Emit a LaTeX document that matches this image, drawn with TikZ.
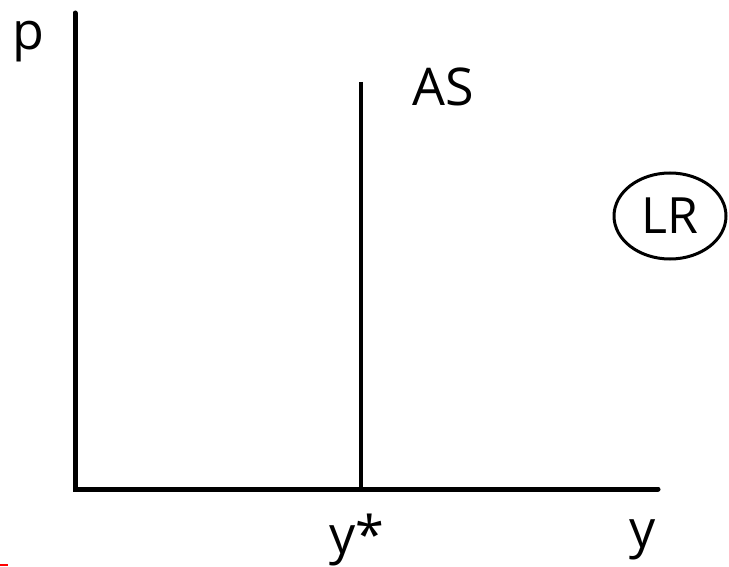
\documentclass[tikz,border=0pt]{standalone}
\usepackage{fontspec}
\setmainfont{Open Sans}
\usetikzlibrary{positioning, shapes.geometric}

\begin{document}
\begin{tikzpicture}[
  x=1pt,y=-1pt,
  axis/.style={line width=5pt,line cap=round},
  curve/.style={line width=4pt},
  lbl/.style={font=\fontsize{52}{56}\selectfont,inner sep=0pt},
  tag/.style={draw,ellipse,line width=3pt,font=\fontsize{50}{54}\selectfont,minimum width=112pt,minimum height=86pt,inner sep=0pt},
]
\useasboundingbox (0,0) rectangle (729,567);

\coordinate (O) at (75,489);
\coordinate (ytop) at (75,13);
\coordinate (xend) at (658,489);
\coordinate (asbot) at (361,489);
\coordinate (astop) at (361,82);

\draw[axis] (ytop) -- (O) -- (xend);
\draw[curve] (astop) -- (asbot);

\node[lbl] (p) at (28,42) {p};
\node[lbl] (as) at (443,87) {AS};
\node[lbl] (ystar) at (357,540) {y*};
\node[lbl] (y) at (643,540) {y};
\node[tag] (lr) at (670,216) {LR};

% stray mark
\draw[red,line width=1.5pt] (0,565) -- (8,565);
\end{tikzpicture}
\end{document}
